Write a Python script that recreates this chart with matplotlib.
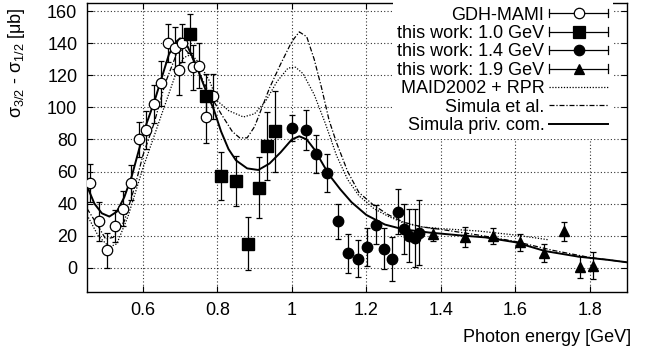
import matplotlib
matplotlib.use("Agg")
import matplotlib.pyplot as plt
from matplotlib.lines import Line2D
from matplotlib.legend_handler import HandlerBase

plt.rcParams['font.family'] = ['Liberation Sans', 'DejaVu Sans']
plt.rcParams['mathtext.fontset'] = 'custom'
plt.rcParams['mathtext.rm'] = 'Liberation Sans'
plt.rcParams['mathtext.it'] = 'Liberation Sans'

# ---------------- data ----------------
gdh_x = [0.459, 0.481, 0.504, 0.526, 0.547, 0.569, 0.589, 0.609, 0.630, 0.649,
         0.667, 0.687, 0.698, 0.706, 0.734, 0.752, 0.770, 0.788]
gdh_y = [53, 29, 11, 26, 37, 53, 80, 86, 102, 115, 140, 137, 123, 140, 125, 126, 94, 107]
gdh_e = [12, 12, 11, 10, 11, 11, 11, 12, 12, 14, 12, 13, 15, 12, 14, 14, 16, 14]

sq_x = [0.726, 0.770, 0.811, 0.849, 0.883, 0.911, 0.934, 0.955]
sq_y = [146, 107, 57, 54, 15, 50, 76, 85]
sq_e = [12, 14, 15, 15.5, 16.5, 19, 21, 25]

c14_x = [1.000, 1.037, 1.066, 1.094, 1.123, 1.151, 1.178, 1.203, 1.227, 1.248,
         1.268, 1.285, 1.301, 1.315, 1.330, 1.342]
c14_y = [87, 86, 71, 59, 29, 9, 5.6, 13, 27, 12, 5.6, 35, 24, 20, 18.6, 22]
c14_e = [8, 12.5, 12, 12, 11, 12, 11.5, 12, 12, 12.6, 13.7, 14, 15.5, 16.4, 17.8, 20]

tri_x = [1.380, 1.465, 1.541, 1.613, 1.678, 1.731, 1.774, 1.810]
tri_y = [21, 19.2, 20, 15.9, 9.3, 22.7, 0.6, 1.4]
tri_e = [4, 6, 5, 5.5, 5.7, 6.2, 7, 8.4]

maid_x = [0.45, 0.48, 0.51, 0.53, 0.56, 0.60, 0.63, 0.66, 0.69, 0.71, 0.73, 0.75,
          0.78, 0.80, 0.83, 0.87, 0.90, 0.93, 0.96, 0.99, 1.01, 1.03, 1.06, 1.09,
          1.12, 1.15, 1.18, 1.22, 1.26, 1.30, 1.35, 1.40, 1.50, 1.60, 1.69]
maid_y = [33, 20, 13, 15, 32, 62, 82, 102, 122, 131, 133, 128, 116, 104, 98, 94,
          96, 104, 116, 124.5, 125, 121, 108, 90, 70, 55, 45, 37, 32, 28, 25.5,
          24.5, 23, 20.5, 17.5]

sim_x = [0.45, 0.48, 0.50, 0.52, 0.55, 0.58, 0.60, 0.63, 0.66, 0.69, 0.71, 0.73,
         0.75, 0.78, 0.81, 0.84, 0.86, 0.88, 0.90, 0.92, 0.94, 0.97, 1.00, 1.02,
         1.04, 1.06, 1.08, 1.10, 1.12, 1.15, 1.18, 1.22, 1.26, 1.30, 1.35, 1.40,
         1.50, 1.60, 1.70, 1.80, 1.90]
sim_y = [37, 26, 18, 19, 29, 52, 70, 90, 115, 133, 137, 132, 122, 108, 96, 85,
         81, 81, 88, 100, 112, 127, 141, 147, 144, 130, 112, 92, 78, 60, 47, 39,
         33, 28.5, 25.5, 24, 20.5, 16.5, 11, 6.5, 3.5]

priv_x = [0.45, 0.47, 0.49, 0.51, 0.53, 0.55, 0.57, 0.59, 0.61, 0.63, 0.65, 0.67,
          0.69, 0.70, 0.72, 0.74, 0.77, 0.79, 0.81, 0.83, 0.85, 0.88, 0.91, 0.94,
          0.97, 1.00, 1.02, 1.04, 1.06, 1.08, 1.10, 1.13, 1.16, 1.20, 1.25, 1.30,
          1.37, 1.45, 1.52, 1.60, 1.68, 1.77, 1.85, 1.90]
priv_y = [51, 40, 34, 32, 35, 44, 57, 74, 90, 103, 118, 133, 141, 143, 138, 128,
          110, 99, 85, 74, 67, 62, 61, 65, 72, 80, 82, 80, 74, 66, 58, 49, 41, 33,
          27, 24, 22, 20.3, 19, 16, 10.5, 7, 5, 3.5]

labels = ["GDH-MAMI", "this work: 1.0 GeV", "this work: 1.4 GeV",
          "this work: 1.9 GeV", "MAID2002 + RPR", "Simula et al.",
          "Simula priv. com."]
xticks = [0.6, 0.8, 1.0, 1.2, 1.4, 1.6, 1.8]
xticklabels = ["0.6", "0.8", "1", "1.2", "1.4", "1.6", "1.8"]
yticks = [0, 20, 40, 60, 80, 100, 120, 140, 160]

# ---------------- figure ----------------
fig = plt.figure(figsize=(6.5, 3.53), dpi=100)
ax = fig.add_axes([87/650, 1-292/353, 540/650, 289/353])

ax.set_xlim(0.45, 1.9)
ax.set_ylim(-15, 165)

ax.grid(True, linestyle=(0, (1, 2)), color='black', linewidth=0.8, alpha=0.8)
ax.set_axisbelow(True)

FS = 13
ax.set_xticks(xticks)
ax.set_xticklabels(xticklabels)
ax.set_yticks(yticks)
ax.tick_params(direction='in', top=True, right=True, length=4, width=0.8,
               labelsize=FS, pad=7)
for sp in ax.spines.values():
    sp.set_linewidth(1.0)

ekw = dict(color='black', ecolor='black', elinewidth=0.9, capsize=2.5,
           capthick=0.9, linestyle='none', zorder=4)
ax.errorbar(gdh_x, gdh_y, yerr=gdh_e, marker='o', ms=7.5, mfc='white',
            mec='black', mew=0.9, **ekw)
ax.errorbar(sq_x, sq_y, yerr=sq_e, marker='s', ms=8, mfc='black', mec='black', **ekw)
ax.errorbar(c14_x, c14_y, yerr=c14_e, marker='o', ms=7.5, mfc='black', mec='black', **ekw)
ax.errorbar(tri_x, tri_y, yerr=tri_e, marker='^', ms=7.5, mfc='black', mec='black', **ekw)

l_maid, = ax.plot(maid_x, maid_y, color='black', lw=0.9, linestyle=(0, (1, 1.3)), zorder=3)
l_sim, = ax.plot(sim_x, sim_y, color='black', lw=0.9,
                 linestyle=(0, (4, 1.5, 1, 1.5)), zorder=3)
l_priv, = ax.plot(priv_x, priv_y, color='black', lw=1.4, linestyle='-', zorder=3)


class HErr(HandlerBase):
    def __init__(self, marker, mfc, ms):
        super().__init__()
        self.marker = marker
        self.mfc = mfc
        self.ms = ms

    def create_artists(self, legend, orig_handle, xdescent, ydescent, width,
                       height, fontsize, trans):
        y = height / 2 - ydescent
        x0 = -xdescent
        x1 = -xdescent + width
        c = 3.0
        arts = [Line2D([x0, x1], [y, y], color='black', lw=0.9),
                Line2D([x0, x0], [y - c, y + c], color='black', lw=0.9),
                Line2D([x1, x1], [y - c, y + c], color='black', lw=0.9),
                Line2D([(x0 + x1) / 2], [y], marker=self.marker, ms=self.ms,
                       mfc=self.mfc, mec='black', mew=0.9, linestyle='none')]
        for a in arts:
            a.set_transform(trans)
        return arts


h_gdh = Line2D([], [])
h_sq = Line2D([], [])
h_c14 = Line2D([], [])
h_tri = Line2D([], [])
handles = [h_gdh, h_sq, h_c14, h_tri, l_maid, l_sim, l_priv]
hmap = {h_gdh: HErr('o', 'white', 7.5), h_sq: HErr('s', 'black', 8),
        h_c14: HErr('o', 'black', 7.5), h_tri: HErr('^', 'black', 7.5)}

leg = ax.legend(handles, labels, handler_map=hmap, loc='upper right',
                bbox_to_anchor=((613 - 87) / 540, (292 - 2) / 289),
                markerfirst=False, fontsize=FS, handlelength=3.3,
                handletextpad=0.25, labelspacing=0.08, borderpad=0.25,
                borderaxespad=0, frameon=True, fancybox=False,
                edgecolor='none', facecolor='white', framealpha=1.0)
leg.set_zorder(6)

ax.set_ylabel(r"$\mathrm{\sigma_{3/2}}$ - $\mathrm{\sigma_{1/2}}$ [μb]", fontsize=FS)
ax.yaxis.set_label_coords((27 - 87) / 540, (292 - 63) / 289)
fig.text(631 / 650, 1 - 338 / 353, "Photon energy [GeV]", ha='right',
         va='center', fontsize=FS)

fig.savefig("out.png", dpi=100)
